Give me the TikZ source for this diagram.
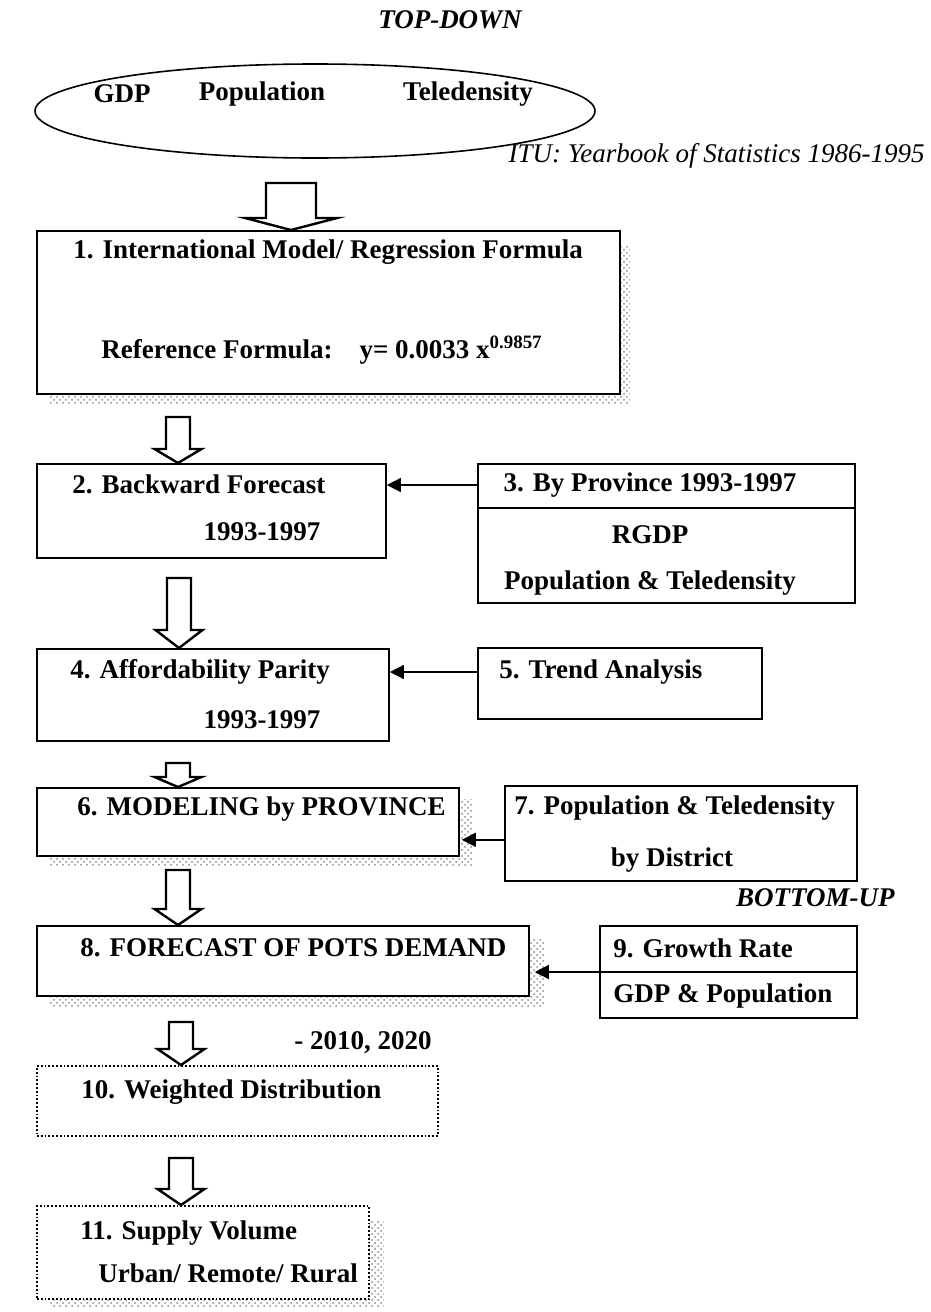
\documentclass[tikz,border=0pt]{standalone}
\usepackage{fontspec}
\setmainfont{Liberation Serif}
\usetikzlibrary{arrows.meta,shapes.geometric,patterns,backgrounds,calc}

% hollow block arrow: top point, tip point, body half width, head half width, head length
\newcommand{\blockarrow}[5]{%
  \draw[hollow] let \p1=(#1), \p2=(#2) in
    (\x1-#3,\y1) -- (\x1+#3,\y1) -- (\x1+#3,\y2+#5) -- (\x1+#4,\y2+#5)
    -- (\x1,\y2) -- (\x1-#4,\y2+#5) -- (\x1-#3,\y2+#5) -- cycle;}

\begin{document}
\begin{tikzpicture}[x=0.5pt,y=-0.5pt,>={Triangle[length=7pt,width=7pt]},
                    font=\fontsize{13.5}{16}\selectfont\bfseries]
  \tikzstyle{box}=[draw,line width=0.9pt,fill=white,inner sep=0pt,anchor=north west]
  \tikzstyle{dotbox}=[box,densely dotted]
  \tikzstyle{txt}=[inner sep=0pt]
  \tikzstyle{feed}=[->,line width=0.7pt]
  \tikzstyle{hollow}=[line width=1.2pt,fill=white,line join=miter]
  \tikzstyle{stipple}=[pattern=crosshatch dots,pattern color=black!45]

  \useasboundingbox (0,0) rectangle (931,1312);

  % top-down inputs
  \node[txt,font=\fontsize{13.5}{16}\selectfont\bfseries\itshape] (topdown) at (450,20) {TOP-DOWN};
  \node[ellipse,draw,line width=0.8pt,minimum width=280pt,minimum height=47pt] (inputs) at (315,111) {};
  \node[txt] (gdp) at (122,94) {GDP};
  \node[txt] (pop) at (262,94) {Population};
  \node[txt] (tele) at (468,94) {Teledensity};
  \node[txt,anchor=east,font=\fontsize{13.5}{16}\selectfont\itshape] (itu) at (925,156)
    {ITU: Yearbook of Statistics 1986-1995};

  % boxes
  \node[box,minimum width=291.5pt,minimum height=81.5pt] (b1) at (36,230) {};
  \node[box,minimum width=174.5pt,minimum height=47pt]   (b2) at (36,463) {};
  \node[box,minimum width=188.5pt,minimum height=69.5pt] (b3) at (477,463) {};
  \node[box,minimum width=176pt,minimum height=46pt]     (b4) at (36,648) {};
  \node[box,minimum width=142pt,minimum height=35.5pt]   (b5) at (477,647) {};
  \node[box,minimum width=211pt,minimum height=34pt]     (b6) at (36,787) {};
  \node[box,minimum width=176pt,minimum height=47.5pt]   (b7) at (504,785) {};
  \node[box,minimum width=246pt,minimum height=35pt]     (b8) at (36,925) {};
  \node[box,minimum width=128.5pt,minimum height=46pt]   (b9) at (599,925) {};
  \node[dotbox,minimum width=200.5pt,minimum height=35pt] (b10) at (36,1065) {};
  \node[dotbox,minimum width=166pt,minimum height=46.5pt] (b11) at (36,1205) {};

  % shadows
  \begin{scope}[on background layer]
    \fill[stipple] ([xshift=7pt,yshift=-8pt]b1.north west) rectangle ([xshift=4.5pt,yshift=-5pt]b1.south east);
    \fill[stipple] ([xshift=7pt,yshift=-6pt]b6.north west) rectangle ([xshift=6pt,yshift=-5pt]b6.south east);
    \fill[stipple] ([xshift=7pt,yshift=-7pt]b8.north west) rectangle ([xshift=7pt,yshift=-5pt]b8.south east);
    \fill[stipple] ([xshift=7pt,yshift=-8pt]b11.north west) rectangle ([xshift=7pt,yshift=-4pt]b11.south east);
  \end{scope}

  % texts
  \node[txt,anchor=west] (t1a) at (73,252) {1. International Model/ Regression Formula};
  \node[txt,anchor=west] (t1b) at (101,350) {Reference Formula:\hspace{1em}y= 0.0033 x\textsuperscript{0.9857}};
  \node[txt,anchor=west] (t2a) at (72,484) {2. Backward Forecast};
  \node[txt] (t2b) at (262,532) {1993-1997};
  \node[txt] (t3a) at (650,485) {3. By Province 1993-1997};
  \node[txt] (t3b) at (650,535) {RGDP};
  \node[txt] (t3c) at (650,583) {Population \& Teledensity};
  \node[txt,anchor=west] (t4a) at (70,672) {4. Affordability Parity};
  \node[txt] (t4b) at (262,720) {1993-1997};
  \node[txt,anchor=west] (t5) at (499,672) {5. Trend Analysis};
  \node[txt,anchor=west] (t6) at (77,809) {6. MODELING by PROVINCE};
  \node[txt,anchor=west] (t7a) at (514,808) {7. Population \& Teledensity};
  \node[txt] (t7b) at (672,860) {by District};
  \node[txt,anchor=east,font=\fontsize{13.5}{16}\selectfont\bfseries\itshape] (bottomup) at (895,898) {BOTTOM-UP};
  \node[txt,anchor=west] (t8) at (80,948) {8. FORECAST OF POTS DEMAND};
  \node[txt,anchor=west] (t9a) at (613,948) {9. Growth Rate};
  \node[txt,anchor=west] (t9b) at (613,996) {GDP \& Population};
  \node[txt,anchor=east] (years) at (432,1043) {- 2010, 2020};
  \node[txt,anchor=west] (t10) at (81,1092) {10. Weighted Distribution};
  \node[txt,anchor=west] (t11a) at (80,1233) {11. Supply Volume};
  \node[txt,anchor=west] (t11b) at (98,1273) {Urban/ Remote/ Rural};

  % split lines
  \draw[line width=0.9pt] ([yshift=-22.5pt]b3.north west) -- ([yshift=-22.5pt]b3.north east);
  \coordinate (div9) at ([yshift=-23.5pt]b9.north west);
  \draw[line width=0.9pt] (div9) -- (div9 -| b9.east);

  % feeding arrows
  \coordinate (in6) at ([xshift=1pt,yshift=8.5pt]b6.south east);
  \coordinate (in8) at ([xshift=2.5pt]b8.east);
  \draw[feed] (b3.west |- t3a) -- (b2.east |- t3a);
  \draw[feed] (b5.west |- t5) -- (b4.east |- t5);
  \draw[feed] (b7.west |- in6) -- (in6);
  \draw[feed] (div9) -- (in8 |- div9);

  % block arrows
  \coordinate (a1) at (291,183);
  \coordinate (a2) at (178,417);
  \coordinate (a3) at (179,578);
  \coordinate (a4) at (178,763);
  \coordinate (a5) at (178,870);
  \coordinate (a6) at (181,1022);
  \coordinate (a7) at (181,1158);
  \blockarrow{a1}{b1.north -| a1}{12.5pt}{23pt}{6pt}
  \blockarrow{a2}{b2.north -| a2}{6pt}{11.75pt}{7pt}
  \blockarrow{a3}{b4.north -| a3}{6pt}{11.75pt}{9pt}
  \blockarrow{a4}{b6.north -| a4}{6pt}{11.75pt}{5pt}
  \blockarrow{a5}{b8.north -| a5}{6pt}{11.75pt}{8pt}
  \blockarrow{a6}{b10.north -| a6}{6pt}{11.75pt}{8pt}
  \blockarrow{a7}{b11.north -| a7}{6pt}{11.75pt}{8pt}
\end{tikzpicture}
\end{document}
